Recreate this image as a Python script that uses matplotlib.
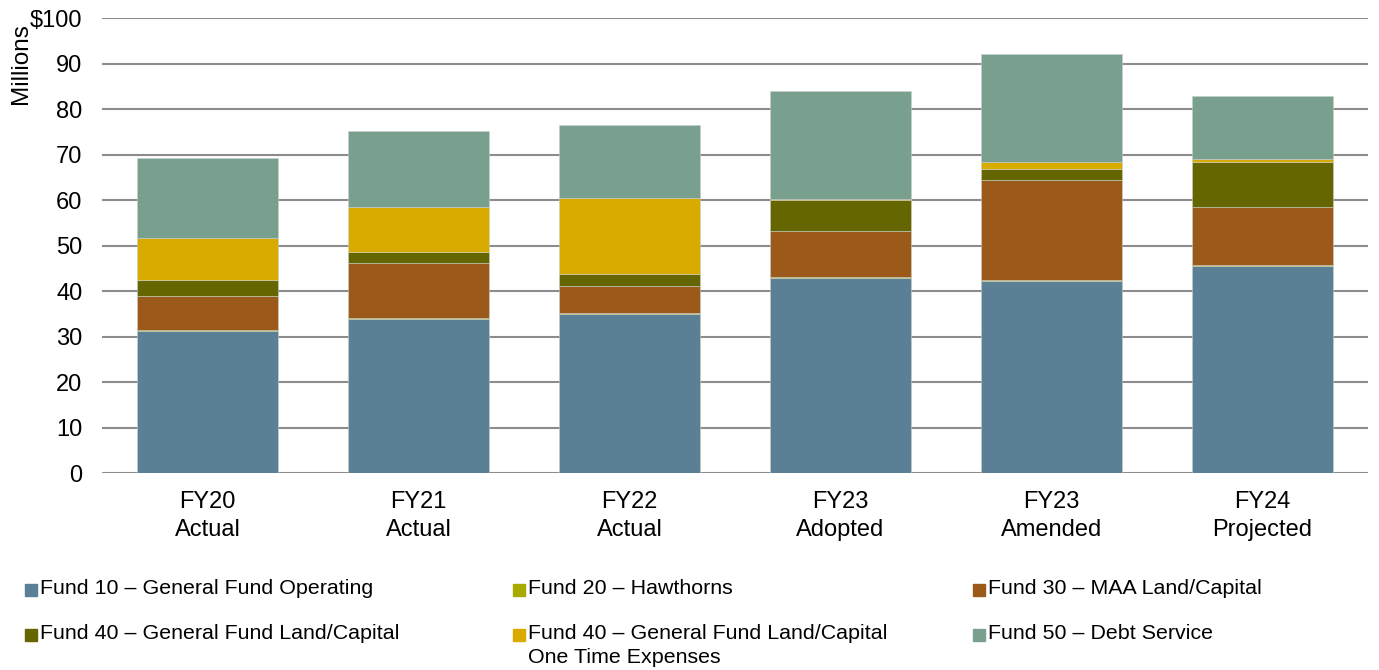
import numpy as np
import matplotlib.pyplot as plt
from matplotlib.patches import Rectangle

plt.rcParams['font.family'] = ['Liberation Sans', 'DejaVu Sans']

years = ['FY20\nActual', 'FY21\nActual', 'FY22\nActual', 'FY23\nAdopted', 'FY23\nAmended', 'FY24\nProjected']

fund10 = [31.2, 33.8, 34.9, 42.9, 42.2, 45.5]
fund20 = [0.2, 0.2, 0.2, 0.2, 0.2, 0.2]
fund30 = [7.5, 12.2, 6.0, 10.1, 22.0, 12.8]
fund40 = [3.5, 2.4, 2.6, 6.8, 2.4, 9.9]
fund40_onetime = [9.2, 9.9, 16.7, 0.3, 1.6, 0.6]
fund50 = [17.6, 16.7, 16.1, 23.7, 23.7, 13.9]

names = ['Fund 10 \u2013 General Fund Operating',
         'Fund 20 \u2013 Hawthorns',
         'Fund 30 \u2013 MAA Land/Capital',
         'Fund 40 \u2013 General Fund Land/Capital',
         'Fund 40 \u2013 General Fund Land/Capital\nOne Time Expenses',
         'Fund 50 \u2013 Debt Service']
colors = ['#5b7f95', '#a8aa00', '#9b5a1a', '#666600', '#d9aa00', '#799f8f']

series = [fund10, fund20, fund30, fund40, fund40_onetime, fund50]

fig = plt.figure(figsize=(13.79, 6.70), dpi=100)
ax = fig.add_axes([0.074, 0.294, 0.918, 0.679])

x = np.arange(len(years))
bottom = np.zeros(len(years))
for vals, c in zip(series, colors):
    ax.bar(x, vals, bottom=bottom, width=0.67, color=c, edgecolor='#c8d0cc', linewidth=0.4, zorder=3)
    bottom += np.array(vals)

ax.set_ylim(0, 100)
ax.set_xlim(-0.5, len(years) - 0.5)
ax.set_yticks(range(0, 101, 10))
ax.set_yticklabels([str(v) if v < 100 else '$100' for v in range(0, 101, 10)], fontsize=17)
ax.set_xticks(x)
ax.set_xticklabels(years, fontsize=17, linespacing=1.34)
ax.yaxis.grid(True, color='#8c8c8c', linewidth=1.5, zorder=0)
ax.tick_params(axis='both', length=0)
ax.tick_params(axis='y', pad=14)
ax.tick_params(axis='x', pad=13)
for s in ax.spines.values():
    s.set_visible(False)

fig.text(0.007, 0.905, 'Millions', rotation=90, fontsize=17.5, ha='left', va='center')

# legend, drawn by hand in three columns
col_x = [25, 513, 973]
row_y = [590, 635]
W, H = 1379, 670
for i, (name, c) in enumerate(zip(names, colors)):
    cx = col_x[i % 3]
    cy = row_y[i // 3]
    fig.patches.append(Rectangle((cx / W, 1 - (cy + 6) / H), 12 / W, 12 / H,
                                 transform=fig.transFigure, color=c, figure=fig))
    fig.text((cx + 15) / W, 1 - (cy - 11) / H, name, fontsize=15.4,
             ha='left', va='top', linespacing=1.35)

fig.savefig('out.png', dpi=100)
